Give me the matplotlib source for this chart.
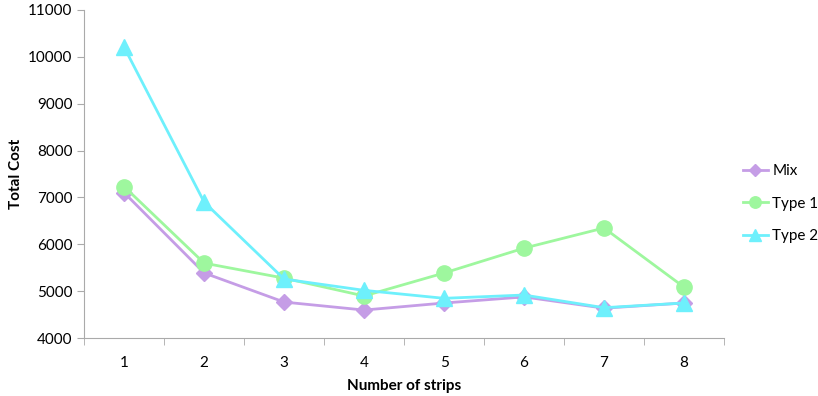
import matplotlib
matplotlib.use("Agg")
import matplotlib.pyplot as plt
import numpy as np

plt.rcParams['font.family'] = ['Lato', 'DejaVu Sans']

strips = [1, 2, 3, 4, 5, 6, 7, 8]
mix = [7100, 5390, 4770, 4600, 4750, 4880, 4640, 4750]
type1 = [7230, 5600, 5280, 4900, 5390, 5920, 6350, 5090]
type2 = [10200, 6900, 5260, 5020, 4850, 4920, 4650, 4750]

fig = plt.figure(figsize=(8.18, 3.96), dpi=100)
ax = fig.add_axes([0.103, 0.146, 0.782, 0.829])

ax.plot(strips, mix, color='#c59de6', marker='D', markersize=8, lw=2, label='Mix')
ax.plot(strips, type1, color='#9ef79e', marker='o', markersize=11, lw=2, label='Type 1')
ax.plot(strips, type2, color='#6ef0fc', marker='^', markersize=11, lw=2, label='Type 2')

ax.set_xlim(0.5, 8.5)
ax.set_ylim(4000, 11000)
ax.set_yticks(np.arange(4000, 11001, 1000))
ax.set_xticks(strips)
ax.set_xticks(np.arange(0.5, 8.6, 1), minor=True)
ax.tick_params(axis='x', which='major', length=0, pad=13, labelsize=11)
ax.tick_params(axis='x', which='minor', length=5, color='#aaaaaa')
ax.tick_params(axis='y', length=5, color='#aaaaaa', labelsize=11)

for s in ['top', 'right']:
    ax.spines[s].set_visible(False)
for s in ['left', 'bottom']:
    ax.spines[s].set_color('#aaaaaa')

ax.set_xlabel('Number of strips', fontweight='bold', fontsize=11, labelpad=6)
ax.set_ylabel('Total Cost', fontweight='bold', fontsize=11)

ax.legend(loc='center left', bbox_to_anchor=(1.03, 0.41), frameon=False,
          fontsize=11, handlelength=1.6, handletextpad=0.3, borderpad=0,
          borderaxespad=0, markerscale=0.75, labelspacing=1.2)

fig.savefig('out.png', dpi=100)
